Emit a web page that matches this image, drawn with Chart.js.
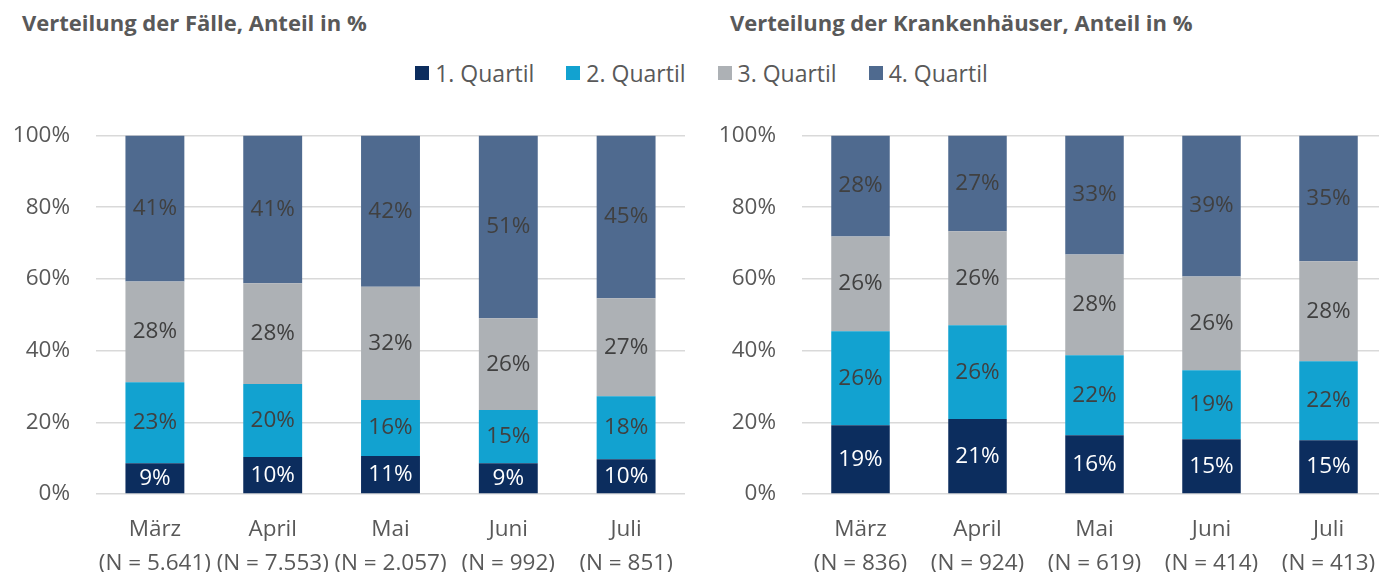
<!DOCTYPE html>
<html>
<head>
<meta charset="utf-8">
<script src="https://cdn.jsdelivr.net/npm/chart.js@4/dist/chart.umd.min.js"></script>
<style>
  body { margin: 0; width: 1379px; height: 572px; overflow: hidden; background: #fff; position: relative; font-family: "Open Sans", sans-serif; }
  .titel { position: absolute; top: 7px; font-weight: bold; font-size: 22px; color: #595959; }
  #legende { position: absolute; top: 57px; left: 12px; width: 1379px; display: flex; justify-content: center; font-size: 23px; color: #595959; }
  #legende span.item { display: flex; align-items: center; margin: 0 16px; }
  #legende span.box { width: 14px; height: 14px; margin-right: 6px; display: inline-block; }
  .chartbox { position: absolute; top: 96px; height: 476px; }
</style>
</head>
<body>
<div class="titel" style="left:22px">Verteilung der Fälle, Anteil in %</div>
<div class="titel" style="left:730px">Verteilung der Krankenhäuser, Anteil in %</div>
<div id="legende"></div>
<div class="chartbox" style="left:0;width:688px"><canvas id="faelle"></canvas></div>
<div class="chartbox" style="left:700px;width:690px"><canvas id="kh"></canvas></div>
<script>
const monate = ['März', 'April', 'Mai', 'Juni', 'Juli'];
const faelleN = ['5.641', '7.553', '2.057', '992', '851'];
const khN = ['836', '924', '619', '414', '413'];
const quartile = ['1. Quartil', '2. Quartil', '3. Quartil', '4. Quartil'];
const farben = ['#0c2d5e', '#12a2d0', '#adb1b5', '#4f6a8f'];
const yTicks = [0, 20, 40, 60, 80, 100];

// Anteile in %
const faelleQ1 = [8.6, 10.3, 10.6, 8.6, 9.7];
const faelleQ2 = [22.6, 20.4, 15.6, 14.8, 17.6];
const faelleQ3 = [28.1, 28.1, 31.6, 25.6, 27.3];
const faelleQ4 = [40.7, 41.2, 42.2, 51.0, 45.4];

const khQ1 = [19.2, 20.9, 16.4, 15.3, 15.0];
const khQ2 = [26.2, 26.2, 22.3, 19.2, 22.0];
const khQ3 = [26.4, 26.2, 28.1, 26.2, 27.9];
const khQ4 = [28.2, 26.7, 33.2, 39.3, 35.1];

const schrift = '"Open Sans", sans-serif';
const groesse = 22.5;

// Legende oben
const leg = document.getElementById('legende');
quartile.forEach((q, i) => {
  leg.innerHTML += '<span class="item"><span class="box" style="background:' + farben[i] + '"></span>' + q + '</span>';
});

// Werte in die Balken schreiben
const wertePlugin = {
  id: 'werte',
  afterDatasetsDraw(chart) {
    const ctx = chart.ctx;
    ctx.save();
    ctx.font = groesse + 'px ' + schrift;
    ctx.textAlign = 'center';
    ctx.textBaseline = 'middle';
    chart.data.datasets.forEach((ds, i) => {
      chart.getDatasetMeta(i).data.forEach((bar, j) => {
        ctx.fillStyle = i === 0 ? '#ffffff' : '#404040';
        ctx.fillText(Math.round(ds.data[j]) + '%', bar.x, (bar.y + bar.base) / 2);
      });
    });
    ctx.restore();
  }
};

function machChart(id, nWerte, reihen, yBreite) {
  return new Chart(document.getElementById(id), {
    type: 'bar',
    data: {
      labels: monate.map((m, i) => [m, '(N = ' + nWerte[i] + ')']),
      datasets: reihen.map((r, i) => ({
        label: quartile[i],
        data: r,
        backgroundColor: farben[i],
        barPercentage: 0.5,
        categoryPercentage: 1
      }))
    },
    options: {
      responsive: true,
      maintainAspectRatio: false,
      animation: false,
      layout: { padding: { top: 11, right: 3, left: 0, bottom: 0 } },
      plugins: { legend: { display: false }, tooltip: { enabled: false } },
      scales: {
        x: {
          stacked: true,
          grid: { display: false, drawTicks: false },
          border: { display: false },
          ticks: { color: '#595959', font: { family: schrift, size: groesse, lineHeight: 1.5 }, padding: 19, maxRotation: 0, autoSkip: false },
          afterFit(s) { s.height = 78; s.paddingLeft = 0; s.paddingRight = 0; }
        },
        y: {
          stacked: true,
          min: 0,
          max: 100,
          afterBuildTicks(s) { s.ticks = yTicks.map(v => ({ value: v })); },
          grid: { color: '#d9d9d9', lineWidth: 1.5, drawTicks: false },
          border: { display: false },
          ticks: { color: '#595959', font: { family: schrift, size: groesse }, padding: 26, callback: v => v + '%' },
          afterFit(s) { s.width = yBreite; }
        }
      }
    },
    plugins: [wertePlugin]
  });
}

machChart('faelle', faelleN, [faelleQ1, faelleQ2, faelleQ3, faelleQ4], 96);
machChart('kh', khN, [khQ1, khQ2, khQ3, khQ4], 102);
</script>
</body>
</html>
